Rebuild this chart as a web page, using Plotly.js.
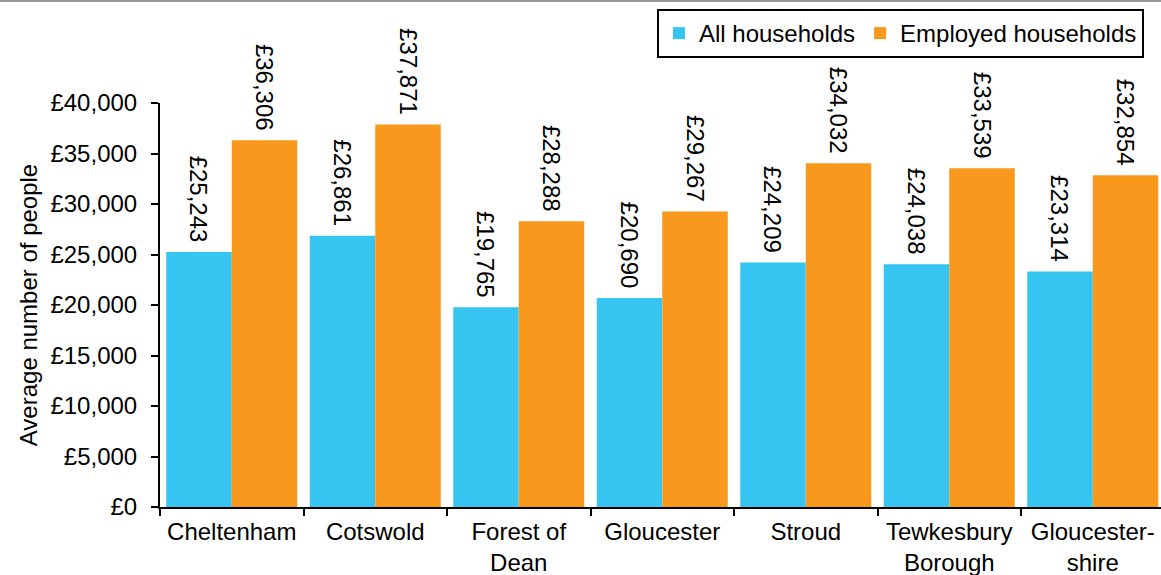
<!DOCTYPE html>
<html>
<head>
<meta charset="utf-8">
<script src="https://cdn.plot.ly/plotly-3.0.1.min.js"></script>
<style>
  html, body { margin: 0; padding: 0; background: #ffffff; }
  #chart { width: 1161px; height: 575px; }
</style>
</head>
<body>
<div id="chart"></div>
<script>
// Average household income by district, Gloucestershire
const districts = [
  'Cheltenham',
  'Cotswold',
  'Forest of<br>Dean',
  'Gloucester',
  'Stroud',
  'Tewkesbury<br>Borough',
  'Gloucester-<br>shire'
];
const allHouseholds = [25243, 26861, 19765, 20690, 24209, 24038, 23314];
const employedHouseholds = [36306, 37871, 28288, 29267, 34032, 33539, 32854];
const seriesNames = ['All households', 'Employed households'];
const yTicks = [0, 5000, 10000, 15000, 20000, 25000, 30000, 35000, 40000];
const yTickText = yTicks.map(v => '£' + v.toLocaleString('en-GB'));

const FONT = 'Liberation Sans, Arial, sans-serif';
const SIZE = 24;

function barTrace(name, values, color) {
  return {
    type: 'bar',
    name: name,
    x: districts,
    y: values,
    marker: { color: color, line: { width: 0 } },
    texttemplate: '£%{y:,} ',
    textposition: 'outside',
    textangle: 90,
    constraintext: 'none',
    cliponaxis: false,
    textfont: { family: FONT, size: SIZE, color: '#000000' },
    hoverinfo: 'skip'
  };
}

const data = [
  barTrace(seriesNames[0], allHouseholds, '#36C5F0'),
  barTrace(seriesNames[1], employedHouseholds, '#F8991D')
];

const layout = {
  width: 1161,
  height: 575,
  margin: { l: 160, r: 0, t: 103, b: 68, pad: 0 },
  paper_bgcolor: '#ffffff',
  plot_bgcolor: '#ffffff',
  font: { family: FONT, size: SIZE, color: '#000000' },
  barmode: 'group',
  bargap: 0.087,
  bargroupgap: 0,
  showlegend: true,
  legend: {
    orientation: 'h',
    x: 0.983, xanchor: 'right',
    y: 1.2327, yanchor: 'top',
    bgcolor: '#ffffff',
    bordercolor: '#000000',
    borderwidth: 2,
    font: { family: FONT, size: SIZE, color: '#000000' },
    traceorder: 'normal'
  },
  xaxis: {
    type: 'category',
    range: [-0.5, 6.4756],
    showline: true,
    linecolor: '#000000',
    linewidth: 2,
    ticks: 'outside',
    tickson: 'boundaries',
    ticklen: 7,
    tickwidth: 2,
    tickcolor: '#000000',
    ticklabelstandoff: 2,
    showgrid: false,
    zeroline: false,
    tickfont: { family: FONT, size: SIZE, color: '#000000' },
    fixedrange: true
  },
  yaxis: {
    range: [0, 40000],
    tickmode: 'array',
    tickvals: yTicks,
    ticktext: yTickText,
    showline: true,
    linecolor: '#000000',
    linewidth: 2,
    ticks: 'outside',
    ticklen: 7,
    tickwidth: 2,
    tickcolor: '#000000',
    ticklabelstandoff: 9,
    showgrid: false,
    zeroline: false,
    tickfont: { family: FONT, size: SIZE, color: '#000000' },
    title: {
      text: 'Average number of people',
      font: { family: FONT, size: SIZE, color: '#000000' },
      standoff: 6
    },
    automargin: false,
    fixedrange: true
  },
  shapes: [
    {
      type: 'line',
      xref: 'paper', yref: 'paper',
      x0: -160 / 1001, x1: 1,
      y0: 506 / 404, y1: 506 / 404,
      line: { color: '#9a9a9a', width: 2 }
    }
  ]
};

Plotly.newPlot('chart', data, layout, { displayModeBar: false, staticPlot: true });
</script>
</body>
</html>
